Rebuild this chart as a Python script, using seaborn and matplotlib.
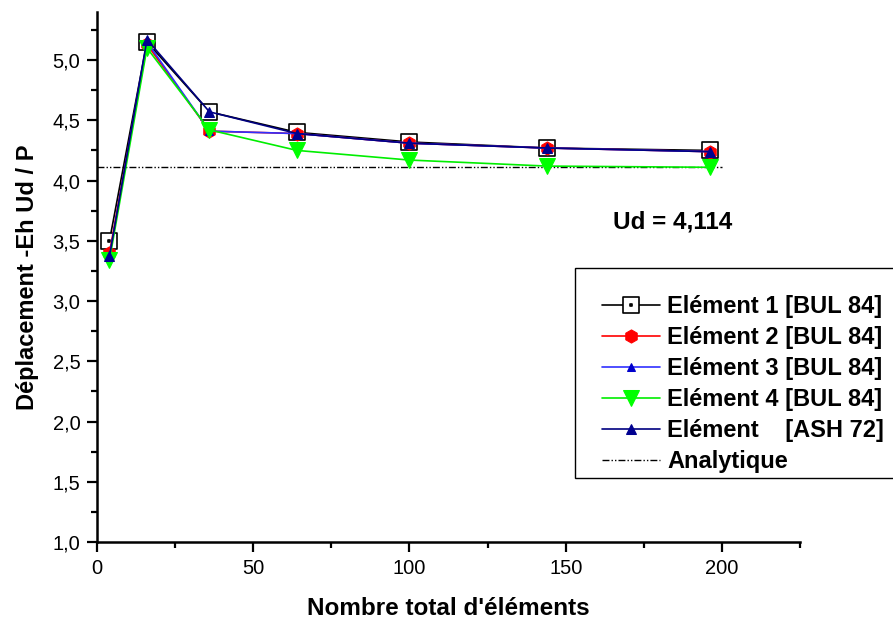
import numpy as np
import pandas as pd
import seaborn as sns
import matplotlib
matplotlib.use("Agg")
import matplotlib.pyplot as plt
from matplotlib.path import Path
from matplotlib.patches import Rectangle
from matplotlib.ticker import MultipleLocator, FuncFormatter

# Mesh sizes (total number of elements)
n_elements = [4, 16, 36, 64, 100, 144, 196]

# Normalised displacement -Eh Ud / P for each element type
elem1_bul84 = [3.50, 5.15, 4.57, 4.40, 4.32, 4.27, 4.25]
elem2_bul84 = [3.40, 5.13, 4.41, 4.39, 4.31, 4.27, 4.24]
elem3_bul84 = [3.37, 5.15, 4.41, 4.39, 4.31, 4.27, 4.24]
elem4_bul84 = [3.34, 5.10, 4.42, 4.25, 4.17, 4.12, 4.11]
elem_ash72 = [3.37, 5.17, 4.57, 4.39, 4.31, 4.27, 4.24]

ud_analytic = 4.114

series_labels = [
    "Elément 1 [BUL 84]",
    "Elément 2 [BUL 84]",
    "Elément 3 [BUL 84]",
    "Elément 4 [BUL 84]",
    "Elément    [ASH 72]",
]
series_values = [elem1_bul84, elem2_bul84, elem3_bul84, elem4_bul84, elem_ash72]

df = pd.DataFrame({
    "n": np.tile(n_elements, len(series_labels)),
    "u": np.concatenate(series_values),
    "serie": np.repeat(series_labels, len(n_elements)),
})

sns.set_theme(style="ticks")
plt.rcParams["font.family"] = ["Liberation Sans", "DejaVu Sans"]
plt.rcParams["text.color"] = "black"
plt.rcParams["axes.labelcolor"] = "black"

# open square with a small dot in its centre
sq = [(-1, -1), (1, -1), (1, 1), (-1, 1), (-1, -1)]
dot = [(-0.1, -0.1), (0.1, -0.1), (0.1, 0.1), (-0.1, 0.1), (-0.1, -0.1)]
codes = [Path.MOVETO, Path.LINETO, Path.LINETO, Path.LINETO, Path.CLOSEPOLY]
square_dot = Path(sq + dot, codes + codes)

styles = {
    series_labels[0]: dict(color="black", marker=square_dot, markersize=11.5,
                           markerfacecolor="white", markeredgecolor="black",
                           markeredgewidth=1.2),
    series_labels[1]: dict(color="#ff0000", marker="h", markersize=9.5,
                           markerfacecolor="#ff0000", markeredgecolor="#ff0000"),
    series_labels[2]: dict(color="#3030ff", marker="^", markersize=6,
                           markerfacecolor="#0000cc", markeredgecolor="#0000cc"),
    series_labels[3]: dict(color="#00ee00", marker="v", markersize=11,
                           markerfacecolor="#00ff00", markeredgecolor="#00ff00"),
    series_labels[4]: dict(color="#000080", marker="^", markersize=7.5,
                           markerfacecolor="#000090", markeredgecolor="#000090"),
}

fig = plt.figure(figsize=(8.93, 6.24), dpi=100)
ax = fig.add_axes([0.1086, 0.1314, 0.7874, 0.8496])

for lab in series_labels:
    sub = df[df["serie"] == lab]
    sns.lineplot(data=sub, x="n", y="u", ax=ax, label=lab, linewidth=1.2,
                 **styles[lab])

ax.plot([0, 200], [ud_analytic, ud_analytic], color="black", linewidth=1.0,
        dashes=[5, 1.5, 1, 1.5, 1, 1.5], label="Analytique", zorder=1)

ax.set_xlim(0, 225)
ax.set_ylim(1.0, 5.4)
ax.xaxis.set_major_locator(MultipleLocator(50))
ax.xaxis.set_minor_locator(MultipleLocator(25))
ax.yaxis.set_major_locator(MultipleLocator(0.5))
ax.yaxis.set_minor_locator(MultipleLocator(0.25))
ax.yaxis.set_major_formatter(FuncFormatter(lambda v, p: f"{v:.1f}".replace(".", ",")))
ax.xaxis.set_major_formatter(FuncFormatter(lambda v, p: f"{v:.0f}"))

for s in ["top", "right"]:
    ax.spines[s].set_visible(False)
for s in ["left", "bottom"]:
    ax.spines[s].set_linewidth(1.8)
    ax.spines[s].set_color("black")

ax.tick_params(which="major", direction="out", length=7, width=1.6,
               labelsize=14.5, colors="black", pad=5)
ax.tick_params(which="minor", direction="out", length=4, width=1.6, colors="black")

ax.set_xlabel("Nombre total d'éléments", fontsize=17.5, fontweight="bold",
              labelpad=14, color="black")
ax.set_ylabel("Déplacement -Eh Ud / P", fontsize=17, fontweight="bold",
              labelpad=10, color="black")

ax.text(0.753, 0.644, "Ud = 4,114", transform=fig.transFigure, fontsize=17.5,
        fontweight="bold", ha="center", va="center", color="black")

# legend box, open on the right edge of the figure
box = Rectangle((0.6439, 0.234), 0.40, 0.3365, transform=fig.transFigure,
                facecolor="white", edgecolor="black", linewidth=1.0,
                clip_on=False, zorder=4)
ax.add_artist(box)

leg = ax.legend(loc="upper left", bbox_to_anchor=(602 / 893, 1 - 295 / 624),
                bbox_transform=fig.transFigure, frameon=False,
                prop={"weight": "bold", "size": 17}, handlelength=2.45,
                handletextpad=0.3, labelspacing=0.34, borderpad=0,
                borderaxespad=0)
leg.set_zorder(6)
for t in leg.get_texts():
    t.set_color("black")

fig.savefig("out.png", dpi=100)
